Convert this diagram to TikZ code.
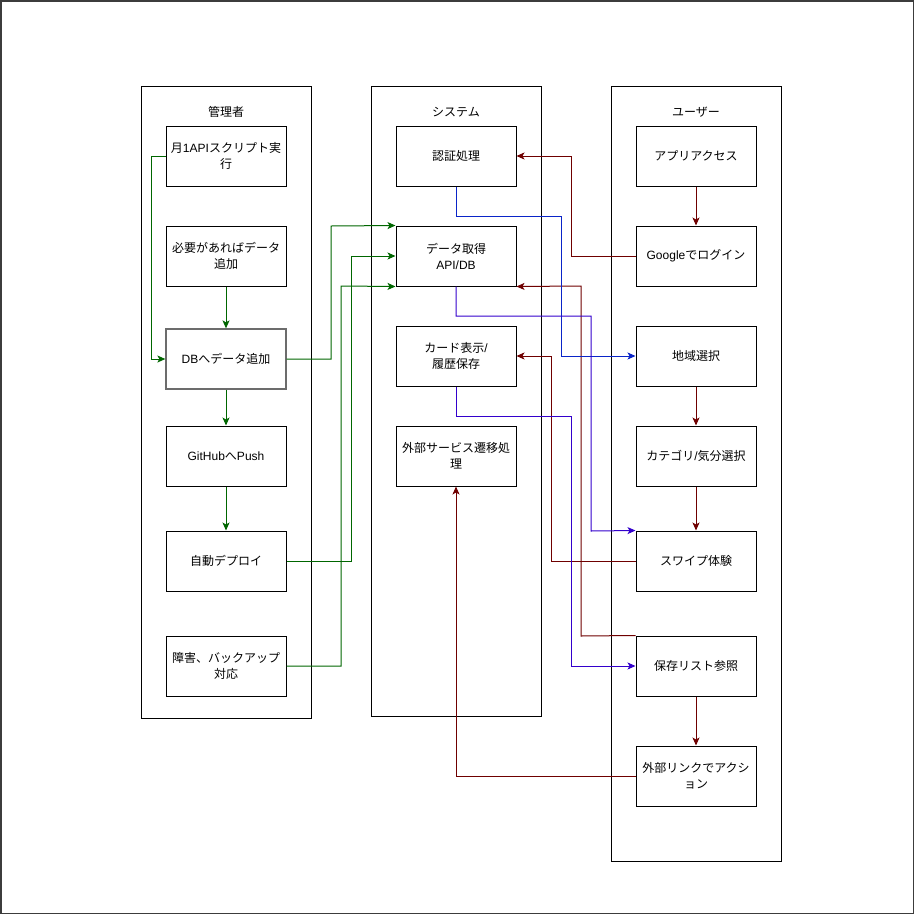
\documentclass[tikz,border=0pt]{standalone}
\usepackage{fontspec}
\setmainfont{Liberation Sans}
\newfontfamily\jp{Noto Sans CJK JP}
\usetikzlibrary{arrows.meta,calc}
\definecolor{cgreen}{HTML}{006600}
\definecolor{cred}{HTML}{6F0000}
\definecolor{cblue}{HTML}{0A24C8}
\definecolor{cpurple}{HTML}{3300CC}
\definecolor{cframe}{HTML}{3C3C3C}
\tikzset{
  lane/.style={draw=black, line width=1pt},
  lanetitle/.style={font=\fontsize{12}{14}\selectfont, inner sep=0pt},
  box/.style={draw=black, line width=1pt, minimum width=120pt, minimum height=60pt, inner sep=2pt, align=center, font=\fontsize{12}{16}\selectfont},
  conn/.style={line width=1pt, -{Stealth[length=8pt,width=7pt,inset=2pt]}},
  gline/.style={conn, draw=cgreen, color=cgreen},
  rline/.style={conn, draw=cred, color=cred},
  bline/.style={conn, draw=cblue, color=cblue},
  pline/.style={conn, draw=cpurple, color=cpurple},
  plain/.style={line width=1pt}
}
\begin{document}
\begin{tikzpicture}[x=1pt,y=-1pt]
\useasboundingbox (0,0) rectangle (914,914);
\draw[cframe, line width=1.5pt] (0.75,0.75) rectangle (913.25,913.25);

% lanes
\draw[lane] (141,86) rectangle (311,718);
\draw[lane] (371,86) rectangle (541,716);
\draw[lane] (611,86) rectangle (781,861);
\node[lanetitle] (t1) at (226,112) {\jp 管理者};
\node[lanetitle] (t2) at (456,112) {\jp システム};
\node[lanetitle] (t3) at (696,112) {\jp ユーザー};

% admin
\node[box] (m1) at (226,156) {{\jp 月}1API{\jp スクリプト実}\\{\jp 行}};
\node[box] (need) at (226,256) {{\jp 必要があればデータ}\\{\jp 追加}};
\node[box, draw=gray!85!black, line width=1.3pt] (db) at (226,359) {DB{\jp へデータ追加}};
\node[box] (gh) at (226,456) {GitHub{\jp へ}Push};
\node[box] (dep) at (226,561) {\jp 自動デプロイ};
\node[box] (bk) at (226,666) {{\jp 障害、バックアップ}\\{\jp 対応}};

% system
\node[box] (auth) at (456,156) {\jp 認証処理};
\node[box] (data) at (456,256) {{\jp データ取得}\\API/DB};
\node[box] (card) at (456,356) {{\jp カード表示}/\\{\jp 履歴保存}};
\node[box] (svc) at (456,456) {{\jp 外部サービス遷移処}\\{\jp 理}};

% user
\node[box] (app) at (696,156) {\jp アプリアクセス};
\node[box] (ggl) at (696,256) {Google{\jp でログイン}};
\node[box] (reg) at (696,356) {\jp 地域選択};
\node[box] (cat) at (696,456) {{\jp カテゴリ}/{\jp 気分選択}};
\node[box] (swp) at (696,561) {\jp スワイプ体験};
\node[box] (sav) at (696,666) {\jp 保存リスト参照};
\node[box] (ext) at (696,776) {{\jp 外部リンクでアクシ}\\{\jp ョン}};

% green connectors
\draw[gline] (m1.west) -- (151,156) -- (151,359) -- (db.west);
\draw[gline] (need.south) -- (db.north);
\draw[gline] (db.south) -- (gh.north);
\draw[gline] (gh.south) -- (dep.north);
\draw[gline] (db.east) -- (331,359) -- (331,226) -- (data.north west);
\draw[gline] (dep.east) -- (351,561) -- (351,256) -- (data.west);
\draw[gline] (bk.east) -- (341,666) -- (341,286) -- (data.south west);

% red connectors
\draw[rline] (app.south) -- (ggl.north);
\draw[rline] (ggl.west) -- (571,256) -- (571,156) -- (auth.east);
\draw[rline] (reg.south) -- (cat.north);
\draw[rline] (cat.south) -- (swp.north);
\draw[rline] (swp.west) -- (551,561) -- (551,356) -- (card.east);
\draw[rline] (sav.north west) -- (581,636) -- (581,286) -- (data.south east);
\draw[rline] (sav.south) -- (ext.north);
\draw[rline] (ext.west) -| (svc.south);

% blue / purple connectors
\draw[bline] (auth.south) -- (456,216) -- (561,216) -- (561,356) -- (reg.west);
\draw[pline] (data.south) -- (456,316) -- (591,316) -- (591,531) -- (swp.north west);
\draw[pline] (card.south) -- (456,416) -- (571,416) -- (571,666) -- (sav.west);
\end{tikzpicture}
\end{document}
